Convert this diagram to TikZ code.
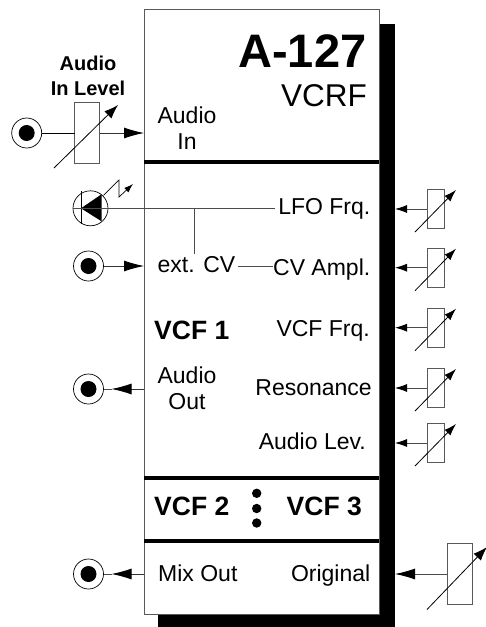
\documentclass[tikz,border=0pt]{standalone}
\usepackage{fontspec}
\setmainfont{Liberation Sans}
\usetikzlibrary{arrows.meta,calc}
\tikzset{
  wire/.style={draw=black!70,line width=0.8pt},
  sigin/.style={draw=black!80,line width=0.8pt,-{Latex[length=20pt,width=11pt,black]}},
  sigsmall/.style={wire,-{Latex[length=12pt,width=8pt,black]}},
  knob/.style={draw=black!65,line width=0.9pt,fill=white,inner sep=0pt,outer sep=0pt,minimum width=16.5pt,minimum height=39.5pt},
  knobbig/.style={knob,minimum width=25pt,minimum height=61pt},
  jack/.style={circle,draw=black,line width=0.7pt,fill=white,minimum size=30pt,inner sep=0pt,outer sep=0pt},
  rulebar/.style={line width=3.6pt,black},
  lbl/.style={inner sep=0pt,font=\fontsize{23}{26}\selectfont},
  lblb/.style={inner sep=0pt,font=\fontsize{26.5}{30}\selectfont\bfseries}
}
\begin{document}
\begin{tikzpicture}[x=1pt,y=-1pt]
  \useasboundingbox (0,0) rectangle (486,627);
  % shadow and panel
  \fill[black] (158,24) rectangle (395,627);
  \node[draw=black!65,line width=1pt,fill=white,inner sep=0pt,outer sep=0pt,minimum width=235pt,minimum height=605.5pt] (panel) at (261.5,312.2) {};
  \draw[rulebar] (panel.west |- 0,162) -- (panel.east |- 0,162);
  \draw[rulebar] (panel.west |- 0,477.7) -- (panel.east |- 0,477.7);
  \draw[rulebar] (panel.west |- 0,541) -- (panel.east |- 0,541);
  % titles
  \node[inner sep=0pt,font=\fontsize{47}{50}\selectfont\bfseries,anchor=base east] (title) at (366.5,67) {A-127};
  \node[inner sep=0pt,font=\fontsize{31.5}{34}\selectfont,anchor=base east] (vcrf) at (367,106.7) {VCRF};
  \node[inner sep=0pt,font=\fontsize{20}{24.5}\selectfont\bfseries,align=center] (lvl) at (88,76) {Audio\\In Level};
  % left column
  \node[lbl,align=center] (audioin) at (187,128) {Audio\\In};
  \node[lbl,align=center] (audioout) at (187,388.5) {Audio\\Out};
  \node[lbl,anchor=base west] (extcv) at (157.5,272.7) {ext. CV};
  \node[lblb,anchor=base west] (vcf1) at (154,339) {VCF 1};
  \node[lblb,anchor=base west] (vcf2) at (154,515) {VCF 2};
  \node[lblb,anchor=base west] (vcf3) at (286.5,515) {VCF 3};
  \node[lbl,anchor=base west] (mixout) at (158,581) {Mix Out};
  % dots
  \foreach \y in {493.3,508.5,523}
    \fill (256.7,\y) circle (4.7pt);
  % right column
  \foreach \nm/\txt/\ex/\yb/\yc in {lfo/LFO Frq./370.5/214.3/209,cva/CV Ampl./370.5/275/267.7,frq/VCF Frq./370/336/327.7,res/Resonance/372/395.7/388,lev/Audio Lev./366/449/443}{
    \node[lbl,anchor=base east] (\nm) at (\ex,\yb) {\txt};
    \node[knob] (pot\nm) at (435.7,\yc) {};
    \coordinate (a\nm) at (415,\yc+23);
    \coordinate (b\nm) at (456,\yc-19);
    \draw[sigsmall] (pot\nm.west) -- (pot\nm.west -| 395,0);
    \draw[sigsmall,draw=black] (a\nm) -- (b\nm);
  }
  \node[lbl,anchor=base east] (orig) at (370.5,581) {Original};
  % input level
  \node[jack] (jin) at (26.7,133) {};
  \fill (jin) circle (8pt);
  \node[knobbig] (potin) at (87,133) {};
  \draw[line width=0.8pt] (jin) -- (potin);
  \draw[sigin] (potin.east) -- (potin.east -| panel.west);
  \coordinate (ain) at (54,168);
  \coordinate (bin) at (118,105);
  \draw[line width=0.8pt,-{Latex[length=14pt,width=10pt]}] (ain) -- (bin);
  % led
  \node[circle,draw=black,line width=0.7pt,fill=white,minimum size=35pt,inner sep=0pt,outer sep=0pt] (led) at (90.5,208.3) {};
  \fill ($(led)+(-9.5,0)$) -- ($(led)+(11,-14)$) -- ($(led)+(11,13)$) -- cycle;
  \draw[line width=1pt] ($(led)+(-9.5,-17)$) -- ($(led)+(-9.5,16)$);
  \coordinate (zz1) at (119,180);
  \coordinate (zz2) at (119,197);
  \coordinate (zz3) at (133,184);
  \draw[line width=0.7pt,-{Latex[length=9pt,width=6pt]}] ($(led)+(13,-13)$) -- (zz1) -- (zz2) -- (zz3);
  \draw[wire,shorten >=3pt] (led.west) -- (lfo.west |- led.west);
  \coordinate (tap) at (194,208.3);
  \coordinate (tapend) at (194,254);
  \draw[wire] (tap) -- (tapend);
  \coordinate (cvl) at (238,266.7);
  \draw[wire] (cvl) -- (cvl -| cva.west);
  % jacks
  \node[jack] (jcv) at (88.5,266) {};
  \fill (jcv) circle (8pt);
  \draw[sigin] (jcv) -- (jcv -| panel.west);
  \node[jack] (jout) at (88.5,389) {};
  \fill (jout) circle (8pt);
  \coordinate (tout) at (111.5,389);
  \draw[sigin] (jout -| panel.west) -- (tout);
  \draw[wire] (tout) -- (jout.east);
  \node[jack] (jmix) at (88.5,574) {};
  \fill (jmix) circle (8pt);
  \coordinate (tmix) at (111.5,574);
  \draw[sigin] (jmix -| panel.west) -- (tmix);
  \draw[wire] (tmix) -- (jmix.east);
  % original
  \node[knobbig] (potorig) at (459.7,574) {};
  \draw[sigin,draw=black!70] (potorig.west) -- (potorig.west -| 395,0);
  \coordinate (aorig) at (427,609.5);
  \coordinate (borig) at (487,547);
  \draw[line width=0.8pt,-{Latex[length=14pt,width=10pt]}] (aorig) -- (borig);
\end{tikzpicture}
\end{document}
